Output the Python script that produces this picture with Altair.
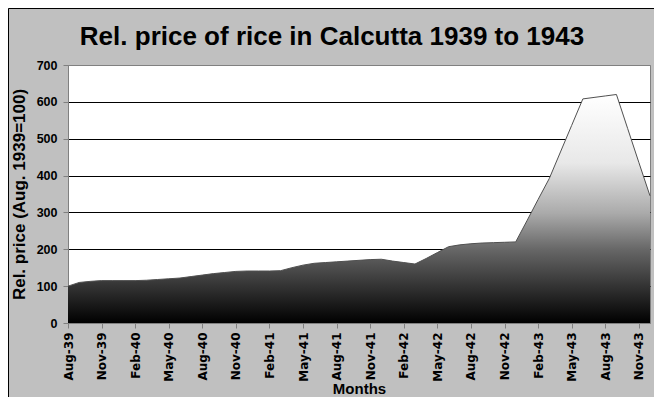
import altair as alt
import pandas as pd

months = [
    "Aug-39", "Sep-39", "Oct-39", "Nov-39", "Dec-39",
    "Jan-40", "Feb-40", "Mar-40", "Apr-40", "May-40", "Jun-40", "Jul-40", "Aug-40", "Sep-40", "Oct-40", "Nov-40", "Dec-40",
    "Jan-41", "Feb-41", "Mar-41", "Apr-41", "May-41", "Jun-41", "Jul-41", "Aug-41", "Sep-41", "Oct-41", "Nov-41", "Dec-41",
    "Jan-42", "Feb-42", "Mar-42", "Apr-42", "May-42", "Jun-42", "Jul-42", "Aug-42", "Sep-42", "Oct-42", "Nov-42", "Dec-42",
    "Jan-43", "Feb-43", "Mar-43", "Apr-43", "May-43", "Jun-43", "Jul-43", "Aug-43", "Sep-43", "Oct-43", "Nov-43", "Dec-43",
]
price = [
    100, 110, 113, 115, 115,
    115, 115, 116, 118, 120, 122, 126, 130, 134, 137, 140, 141,
    141, 141, 142, 150, 157, 162, 164, 166, 168, 170, 172, 173,
    168, 164, 160, 175, 191, 207, 212, 215, 217, 218, 219, 220,
    277, 335, 392, 464, 536, 608, 612, 616, 620, 528, 436, 345,
]
tick_labels = months[::3]
y_ticks = [0, 100, 200, 300, 400, 500, 600, 700]

df = pd.DataFrame({"month": months, "price": price})

x_enc = alt.X(
    "month:O",
    sort=months,
    scale=alt.Scale(type="point", padding=0, domain=months),
    axis=alt.Axis(
        title="Months", values=tick_labels, labelAngle=-90,
        labelFont="DejaVu Sans", labelFontWeight="bold", labelFontSize=12,
        labelColor="black", labelPadding=4, tickSize=5, tickColor="#808080",
        domainColor="#808080", titleFont="Liberation Sans", titleFontWeight="bold",
        titleFontSize=15, titleColor="black", titlePadding=0, grid=False,
        labelOverlap=False,
    ),
)
y_enc = alt.Y(
    "price:Q",
    scale=alt.Scale(domain=[0, 700], nice=False),
    axis=alt.Axis(
        title="Rel. price (Aug. 1939=100)", values=y_ticks, grid=True,
        gridColor={"condition": {"test": "datum.value >= 700 || datum.value <= 0", "value": "#808080"}, "value": "black"},
        gridOpacity=1, labelFont="Liberation Sans", labelFontWeight="bold",
        labelFontSize=12.5, labelColor="black", labelPadding=6, tickSize=5,
        tickColor="#808080", domainColor="#808080", titleFont="Liberation Sans",
        titleFontWeight="bold", titleFontSize=17, titleColor="black", titlePadding=8,
        labelOverlap=False,
    ),
)

grad = alt.Gradient(
    gradient="linear",
    stops=[
        alt.GradientStop(color="#000000", offset=0),
        alt.GradientStop(color="#333333", offset=0.16),
        alt.GradientStop(color="#666666", offset=0.32),
        alt.GradientStop(color="#aaaaaa", offset=0.48),
        alt.GradientStop(color="#e8e8e8", offset=0.7),
        alt.GradientStop(color="#ffffff", offset=1),
    ],
    x1=0, x2=0, y1=1, y2=0,
)

base = alt.Chart(df).encode(x=x_enc, y=y_enc)
area = base.mark_area(color=grad, opacity=1)
line = base.mark_line(color="#505050", strokeWidth=1)

border = alt.Chart(pd.DataFrame({"a": [0]})).mark_rect(
    fillOpacity=0, stroke="black", strokeWidth=1
).encode(x=alt.value(-59.5), x2=alt.value(800), y=alt.value(-56.5), y2=alt.value(600))

chart = alt.layer(area, line, border).properties(
    width=582, height=258,
    title=alt.TitleParams(
        "Rel. price of rice in Calcutta 1939 to 1943", font="Liberation Sans",
        fontSize=26, fontWeight="bold", color="black", anchor="middle",
        frame="group", dx=-27, offset=-42,
    ),
    autosize=alt.AutoSizeParams(type="none"),
    padding={"left": 60, "top": 57, "right": 4, "bottom": 74},
).configure(background="#c0c0c0").configure_view(fill="white", stroke="#808080", strokeWidth=1)

chart.save("out.html", embed_options={"renderer": "svg", "actions": False})
